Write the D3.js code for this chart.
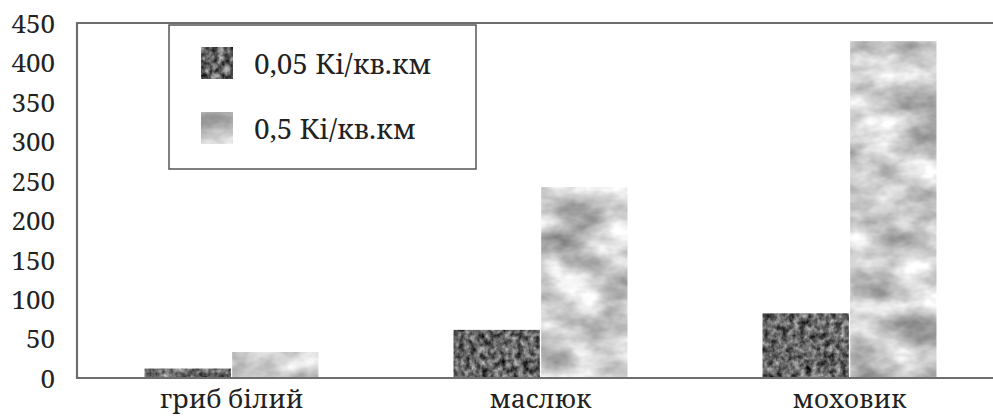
<!DOCTYPE html>
<html>
<head>
<meta charset="utf-8">
<title>Радіоактивність грибів</title>
<script src="https://d3js.org/d3.v7.min.js"></script>
<style>
  body { margin: 0; background: #fff; }
  svg text { font-family: "Noto Serif", "DejaVu Serif", serif; fill: #222; }
</style>
</head>
<body>
<div id="chart"></div>
<script>
// data
var categories = ["гриб білий", "маслюк", "моховик"];
var seriesNames = ["0,05 Кі/кв.км", "0,5 Кі/кв.км"];
var low  = [12, 61, 82];
var high = [33, 242, 427];
var yTicks = [0, 50, 100, 150, 200, 250, 300, 350, 400, 450];

var width = 993, height = 418;
var plotLeft = 77, plotTop = 23, plotBottom = 378, plotRight = 1004;

var svg = d3.select("#chart").append("svg")
    .attr("width", width)
    .attr("height", height);

// grainy fills, roughly like the scanned textures
var defs = svg.append("defs");
function grain(id, freq, oct, seed, k, c) {
  var f = defs.append("filter").attr("id", id)
      .attr("filterUnits", "userSpaceOnUse")
      .attr("x", 0).attr("y", 0).attr("width", width).attr("height", height)
      .attr("color-interpolation-filters", "sRGB");
  f.append("feTurbulence")
      .attr("type", "fractalNoise")
      .attr("baseFrequency", freq)
      .attr("numOctaves", oct)
      .attr("seed", seed)
      .attr("result", "noise");
  f.append("feColorMatrix").attr("in", "noise").attr("type", "matrix")
      .attr("values", [k,0,0,0,c, k,0,0,0,c, k,0,0,0,c, 0,0,0,0,1].join(" "))
      .attr("result", "grey");
  f.append("feComposite").attr("in", "grey").attr("in2", "SourceGraphic")
      .attr("operator", "in");
}
grain("texDark", "0.17 0.15", 3, 4, 1.0, -0.1);
grain("texLight", "0.02 0.035", 4, 9, 0.75, 0.42);
var filters = ["url(#texDark)", "url(#texLight)"];

var x0 = d3.scaleBand()
    .domain(categories)
    .range([plotLeft, plotRight])
    .paddingInner(0.437)
    .paddingOuter(0.2185);

var x1 = d3.scaleBand()
    .domain([0, 1])
    .range([0, x0.bandwidth()])
    .paddingInner(0.015);

var y = d3.scaleLinear()
    .domain([0, 450])
    .range([plotBottom, plotTop]);

// bars, one filtered group per series
[low, high].forEach(function(values, j) {
  svg.append("g")
      .attr("filter", filters[j])
    .selectAll("rect")
    .data(values)
    .enter().append("rect")
      .attr("x", function(d, i) { return x0(categories[i]) + x1(j); })
      .attr("y", function(d) { return y(d); })
      .attr("width", x1.bandwidth())
      .attr("height", function(d) { return plotBottom - y(d); })
      .attr("fill", "#888");
});

// frame (right side runs off the picture)
svg.append("path")
    .attr("d", "M" + plotRight + "," + plotTop + "H" + plotLeft + "V" + plotBottom + "H" + plotRight)
    .attr("fill", "none")
    .attr("stroke", "#6e6e6e")
    .attr("stroke-width", 2.2);

// y axis labels
var yAxis = d3.axisLeft(y).tickValues(yTicks).tickSize(0).tickPadding(22);
var ya = svg.append("g")
    .attr("transform", "translate(" + plotLeft + ",0)")
    .call(yAxis)
    .attr("font-family", null)
    .attr("font-size", 26);
ya.select(".domain").remove();
ya.selectAll("text")
    .attr("fill", "#222")
    .attr("dy", "0.36em");

// x labels
var xAxis = d3.axisBottom(x0).tickSize(0).tickPadding(0);
var xa = svg.append("g")
    .attr("transform", "translate(0," + plotBottom + ")")
    .call(xAxis)
    .attr("font-family", null)
    .attr("font-size", 26);
xa.select(".domain").remove();
xa.selectAll("text")
    .attr("fill", "#222")
    .attr("y", 30)
    .attr("dy", 0);

// legend
var legend = svg.append("g");
legend.append("rect")
    .attr("x", 169).attr("y", 25)
    .attr("width", 307).attr("height", 144)
    .attr("fill", "#fff")
    .attr("stroke", "#555")
    .attr("stroke-width", 1.5);

var items = legend.selectAll("g.item")
    .data(seriesNames)
    .enter().append("g")
    .attr("class", "item")
    .attr("transform", function(d, i) { return "translate(201," + (47 + i * 65) + ")"; });

items.append("rect")
    .attr("width", 32).attr("height", 32)
    .attr("fill", "#888")
    .attr("filter", function(d, i) { return filters[i]; });

items.append("text")
    .attr("x", 53)
    .attr("y", 27)
    .attr("font-size", 28)
    .attr("fill", "#222")
    .text(function(d) { return d; });
</script>
</body>
</html>
